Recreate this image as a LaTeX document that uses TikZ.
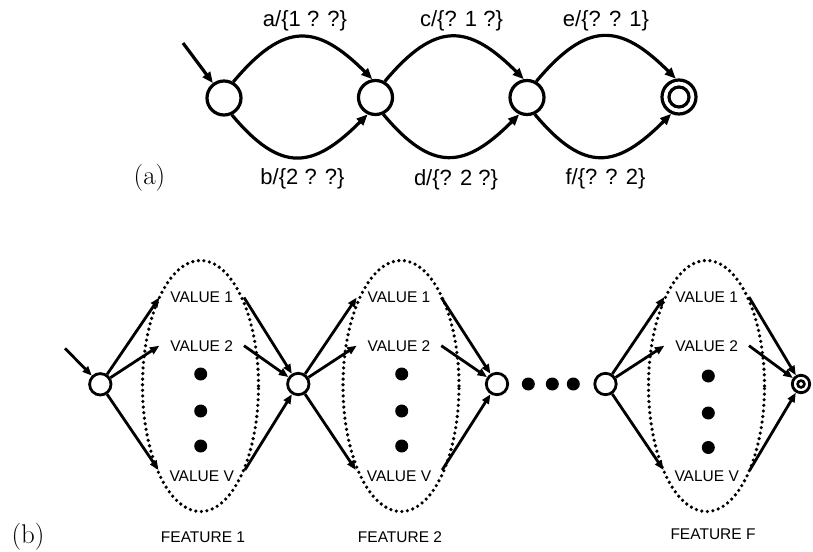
\documentclass[tikz,border=0pt]{standalone}
\usepackage{fontspec}
\newfontfamily\arialf{Liberation Sans}
\usetikzlibrary{arrows.meta,shapes.geometric}
\begin{document}
\begin{tikzpicture}[x=1pt,y=1pt,
  stateA/.style={circle,draw,line width=3.2pt,minimum size=34pt,inner sep=0pt},
  stateB/.style={circle,draw,line width=2.8pt,minimum size=21.4pt,inner sep=0pt},
  arrA/.style={line width=3.2pt,-{Triangle[length=11pt,width=9pt]}},
  arrB/.style={line width=2.8pt,-{Triangle[length=9.5pt,width=7.5pt]}},
  toplab/.style={font=\arialf\fontsize{22}{26}\selectfont,inner sep=0pt},
  vallab/.style={font=\arialf\fontsize{15.5}{18}\selectfont,inner xsep=11pt,inner ysep=2pt,outer sep=0pt},
  featlab/.style={font=\arialf\fontsize{15.5}{18}\selectfont,inner sep=0pt},
  partlab/.style={font=\fontsize{27}{32}\selectfont,inner sep=0pt},
  featell/.style={ellipse,draw,line width=3.6pt,dash pattern=on 0pt off 5.6pt,line cap=round,minimum width=116pt,minimum height=251pt,inner sep=0pt},
  bigdot/.style={circle,fill,minimum size=13pt,inner sep=0pt}
]
\useasboundingbox (0,0) rectangle (813,-551);

% ---------- (a) ----------
\node[stateA] (s1) at (224,-98) {};
\node[stateA] (s2) at (375.5,-97.5) {};
\node[stateA] (s3) at (527,-97.5) {};
\node[stateA] (s4) at (679,-97) {};
\draw[line width=3.2pt] (s4.center) circle (10);
\coordinate (i1) at (183,-43);
\draw[arrA] (i1) -- (s1);

\draw[arrA] (s1.60) to[out=50,in=135,looseness=1.45] (s2.100);
\draw[arrA] (s1.-65) to[out=-50,in=-135,looseness=1.45] (s2.-115);
\draw[arrA] (s2.60) to[out=50,in=135,looseness=1.45] (s3.100);
\draw[arrA] (s2.-65) to[out=-50,in=-135,looseness=1.45] (s3.-115);
\draw[arrA] (s3.60) to[out=50,in=135,looseness=1.45] (s4.100);
\draw[arrA] (s3.-65) to[out=-50,in=-135,looseness=1.45] (s4.-115);

\node[toplab] (la) at (305,-20.5) {a/\{1 ? ?\}};
\node[toplab] (lb) at (302.5,-179) {b/\{2 ? ?\}};
\node[toplab] (lc) at (461.5,-20.5) {c/\{? 1 ?\}};
\node[toplab] (ld) at (456,-179.5) {d/\{? 2 ?\}};
\node[toplab] (le) at (606,-20.5) {e/\{? ? 1\}};
\node[toplab] (lf) at (605.5,-179) {f/\{? ? 2\}};
\node[partlab] (pa) at (149.5,-177.5) {(a)};

% ---------- (b) ----------
\node[stateB] (b1) at (100.3,-384.3) {};
\node[stateB] (b2) at (298.3,-384) {};
\node[stateB] (b3) at (497,-384) {};
\node[stateB] (b4) at (605.5,-384) {};
\node[circle,draw,line width=2.8pt,minimum size=17.4pt,inner sep=0pt] (b5) at (801,-384) {};
\draw[line width=2.6pt] (b5.center) circle (3.4);
\coordinate (i2) at (65,-348.3);
\draw[arrB] (i2) -- (b1);

\node[featell] (e1) at (200.5,-386) {};
\node[featell] (e2) at (401,-386) {};
\node[featell] (e3) at (706.5,-386) {};

\node[vallab] (v11) at (201.7,-297.5) {VALUE 1};
\node[vallab] (v12) at (201.7,-345.7) {VALUE 2};
\node[vallab] (v1v) at (201.7,-476) {VALUE V};
\node[vallab] (v21) at (399,-297.5) {VALUE 1};
\node[vallab] (v22) at (399,-345.7) {VALUE 2};
\node[vallab] (v2v) at (399,-476) {VALUE V};
\node[vallab] (v31) at (706.7,-297) {VALUE 1};
\node[vallab] (v32) at (706.7,-345.7) {VALUE 2};
\node[vallab] (v3v) at (706.7,-476) {VALUE V};

\node[bigdot] (d11) at (200.7,-374) {};
\node[bigdot] (d12) at (200.7,-411) {};
\node[bigdot] (d13) at (200.7,-446) {};
\node[bigdot] (d21) at (401.7,-374) {};
\node[bigdot] (d22) at (401.7,-411) {};
\node[bigdot] (d23) at (401.7,-446) {};
\node[bigdot] (d31) at (708.3,-376) {};
\node[bigdot] (d32) at (708.3,-413) {};
\node[bigdot] (d33) at (708.3,-447.5) {};
\node[bigdot] (m1) at (528.3,-384) {};
\node[bigdot] (m2) at (552.3,-384) {};
\node[bigdot] (m3) at (573.3,-384) {};

% feature 1
\draw[arrB] (b1) -- (v11.west);
\draw[arrB] (b1) -- (v12.west);
\draw[arrB] (b1) -- ([yshift=6pt]v1v.west);
\draw[arrB] (v11.east) -- (b2);
\draw[arrB] (v12.east) -- (b2);
\draw[arrB] ([yshift=6pt]v1v.east) -- (b2);
% feature 2
\draw[arrB] (b2) -- (v21.west);
\draw[arrB] (b2) -- (v22.west);
\draw[arrB] (b2) -- ([yshift=6pt]v2v.west);
\draw[arrB] (v21.east) -- (b3);
\draw[arrB] (v22.east) -- (b3);
\draw[arrB] ([yshift=6pt]v2v.east) -- (b3);
% feature F
\draw[arrB] (b4) -- (v31.west);
\draw[arrB] (b4) -- (v32.west);
\draw[arrB] (b4) -- ([yshift=6pt]v3v.west);
\draw[arrB] (v31.east) -- (b5);
\draw[arrB] (v32.east) -- (b5);
\draw[arrB] ([yshift=6pt]v3v.east) -- (b5);

\node[featlab] (f1) at (203,-537) {FEATURE 1};
\node[featlab] (f2) at (400,-537) {FEATURE 2};
\node[featlab] (f3) at (713,-534) {FEATURE F};
\node[partlab] (pb) at (28,-537) {(b)};
\end{tikzpicture}
\end{document}
